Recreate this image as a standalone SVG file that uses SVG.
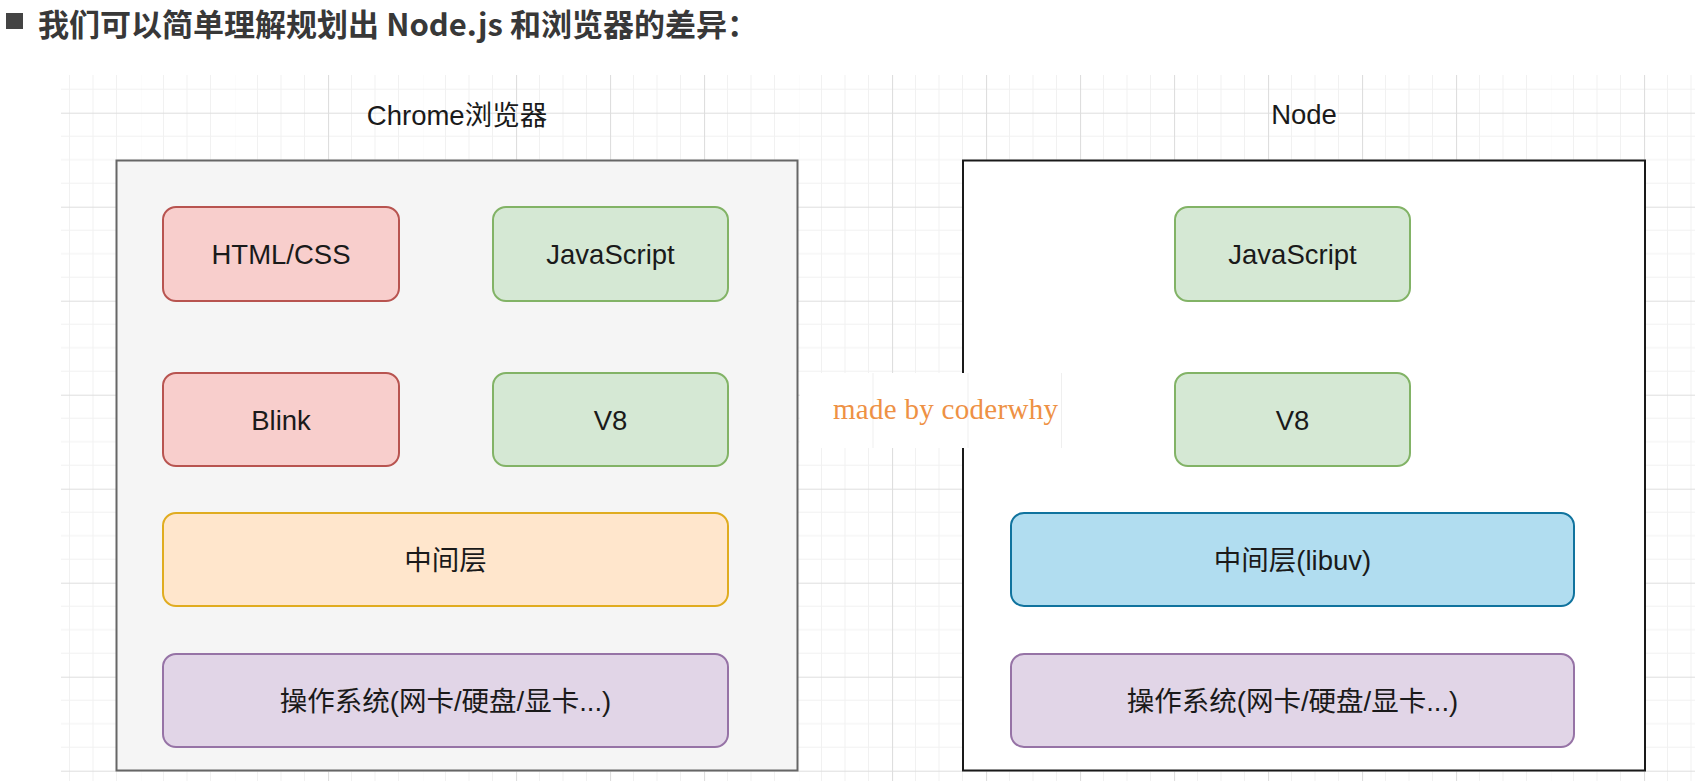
<svg xmlns="http://www.w3.org/2000/svg" width="1695" height="781" viewBox="0 0 1695 781">
<style>
.t{font-family:"Liberation Sans","Noto Sans CJK SC",sans-serif;font-size:27.5px;fill:#1a1a1a;text-anchor:middle}
.red{fill:#f8cecc;stroke:#b85450;stroke-width:2}
.green{fill:#d5e8d4;stroke:#82b366;stroke-width:2}
.orange{fill:#ffe6cc;stroke:#e0ac20;stroke-width:2}
.blue{fill:#b1ddf0;stroke:#10739e;stroke-width:2}
.purple{fill:#e1d5e7;stroke:#9673a6;stroke-width:2}
.mn{stroke:#f1f1f1;stroke-width:1}
.mj{stroke:#dedede;stroke-width:1.2}
</style>
<defs>
<pattern id="grid" patternUnits="userSpaceOnUse" x="46" y="18.7" width="94" height="94">
<path class="mn" d="M23.5 0V94M47 0V94M70.5 0V94M0 23.5H94M0 47H94M0 70.5H94" fill="none"/>
<path class="mj" d="M0.5 0V94M0 0.5H94" fill="none"/>
</pattern>
</defs>
<rect width="1695" height="781" fill="#ffffff"/>
<g id="title">
<rect x="6" y="13" width="17" height="16" fill="#444444"/>
<text x="38" y="36" font-family="'Noto Sans CJK SC',sans-serif" font-weight="bold" font-size="30.5" fill="#383838" textLength="720" lengthAdjust="spacingAndGlyphs">我们可以简单理解规划出 Node.js 和浏览器的差异：</text>
</g>
<rect id="canvas-grid" x="61" y="75" width="1634" height="706" fill="url(#grid)"/>
<g id="chrome">
<rect x="116.5" y="160.5" width="681" height="610" fill="#f5f5f5" stroke="#666666" stroke-width="2"/>
<text class="t" x="457" y="125">Chrome浏览器</text>
</g>
<g id="node">
<rect x="963" y="160.5" width="682" height="610" fill="#ffffff" stroke="#1a1a1a" stroke-width="2"/>
<text class="t" x="1304" y="124">Node</text>
</g>
<g id="chrome-html-css">
<rect class="red" x="163" y="207" width="236" height="94" rx="13"/>
<text class="t" x="281" y="264">HTML/CSS</text>
</g>
<g id="chrome-javascript">
<rect class="green" x="493" y="207" width="235" height="94" rx="13"/>
<text class="t" x="610.5" y="264">JavaScript</text>
</g>
<g id="chrome-blink">
<rect class="red" x="163" y="373" width="236" height="93" rx="13"/>
<text class="t" x="281" y="429.5">Blink</text>
</g>
<g id="chrome-v8">
<rect class="green" x="493" y="373" width="235" height="93" rx="13"/>
<text class="t" x="610.5" y="429.5">V8</text>
</g>
<g id="chrome-middle">
<rect class="orange" x="163" y="513" width="565" height="93" rx="13"/>
<text class="t" x="445.5" y="570">中间层</text>
</g>
<g id="chrome-os">
<rect class="purple" x="163" y="654" width="565" height="93" rx="13"/>
<text class="t" x="445.5" y="710.5">操作系统(网卡/硬盘/显卡...)</text>
</g>
<g id="node-javascript">
<rect class="green" x="1175" y="207" width="235" height="94" rx="13"/>
<text class="t" x="1292.5" y="264">JavaScript</text>
</g>
<g id="node-v8">
<rect class="green" x="1175" y="373" width="235" height="93" rx="13"/>
<text class="t" x="1292.5" y="429.5">V8</text>
</g>
<g id="node-libuv">
<rect class="blue" x="1011" y="513" width="563" height="93" rx="13"/>
<text class="t" x="1292.5" y="570">中间层(libuv)</text>
</g>
<g id="node-os">
<rect class="purple" x="1011" y="654" width="563" height="93" rx="13"/>
<text class="t" x="1292.5" y="710.5">操作系统(网卡/硬盘/显卡...)</text>
</g>
<g id="connectors"/>
<g id="watermark">
<rect x="800" y="373" width="262" height="75" fill="#ffffff"/>
<path d="M873 373V448M968 373V448M1061.5 373V448" stroke="#efefef" stroke-width="1"/>
<text x="833" y="419" font-family="'Liberation Serif',serif" font-size="29" fill="#ee9144" textLength="225">made by coderwhy</text>
</g>
</svg>
